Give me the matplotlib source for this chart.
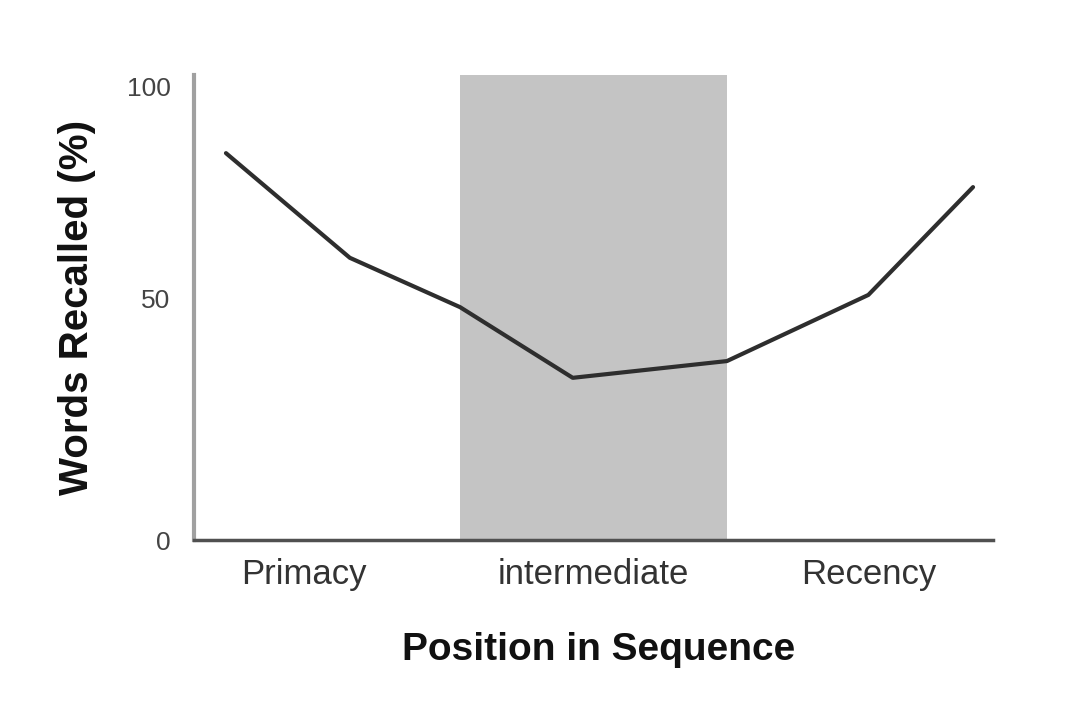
import matplotlib
matplotlib.use("Agg")
import matplotlib.pyplot as plt

# Data (x: position along sequence, 0-100 scale; y: words recalled %)
seq_pos = [4.0, 19.5, 33.3, 47.4, 66.7, 84.4, 97.5]
recalled = [85.4, 62.3, 51.4, 35.8, 39.5, 54.1, 77.9]

categories = ["Primacy", "intermediate", "Recency"]
category_pos = [13.8, 50.0, 84.5]
intermediate_span = [33.3, 66.7]

ytick_vals = [0, 53.4, 100]
ytick_labels = ["0", "50", "100"]

plt.rcParams['font.family'] = ['Liberation Sans', 'DejaVu Sans']

fig = plt.figure(figsize=(10.88, 7.14), dpi=100)
ax = fig.add_axes([194/1088, 1-540/714, 799/1088, 465/714])

ax.axvspan(intermediate_span[0], intermediate_span[1], color='#c4c4c4', lw=0, zorder=1)
ax.plot(seq_pos, recalled, color='#2e2e2e', lw=3.0, solid_joinstyle='round',
        solid_capstyle='round', zorder=3)

ax.set_xlim(0, 100)
ax.set_ylim(0, 465/4.53)

ax.set_xticks(category_pos)
ax.set_xticklabels(categories, fontsize=25, color='#333333')
ax.set_yticks(ytick_vals)
ax.set_yticklabels(ytick_labels, fontsize=19, color='#444444')
ax.tick_params(axis='x', length=0, pad=13)
ax.tick_params(axis='y', length=0, pad=17)

for s in ['top', 'right']:
    ax.spines[s].set_visible(False)
ax.spines['left'].set_color('#a0a0a0')
ax.spines['left'].set_linewidth(3)
ax.spines['bottom'].set_color('#505050')
ax.spines['bottom'].set_linewidth(2.5)

ax.set_xlabel("Position in Sequence", fontsize=28, fontweight='bold',
              color='#111111', va='baseline')
ax.xaxis.set_label_coords(0.506, -0.258)
ax.set_ylabel("Words Recalled (%)", fontsize=29, fontweight='bold',
              color='#111111', va='center')
ax.yaxis.set_label_coords(-0.146, 0.5)

fig.savefig("out.png", dpi=100)
